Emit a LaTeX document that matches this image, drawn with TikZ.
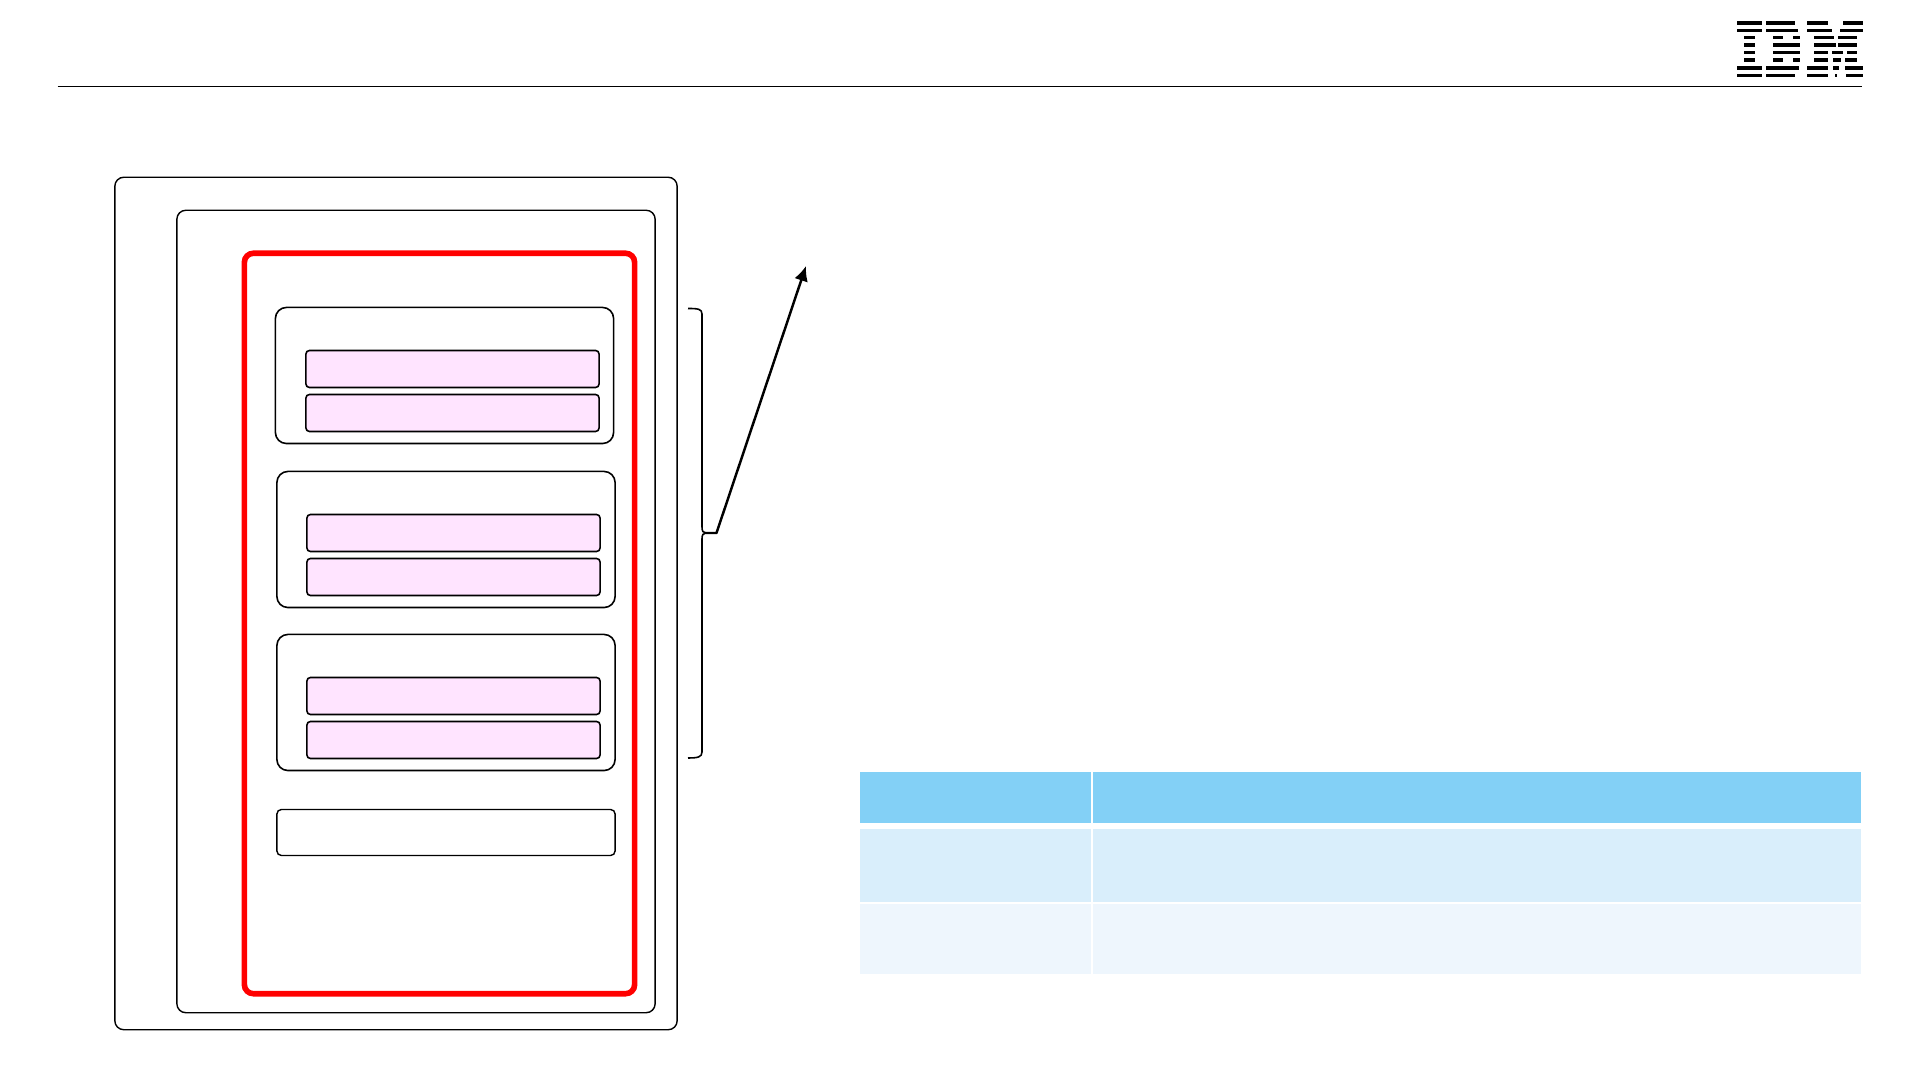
\documentclass[tikz,border=0pt]{standalone}
\usepackage{xcolor}
\usetikzlibrary{arrows.meta}
\definecolor{blockpink}{HTML}{FFE4FF}
\definecolor{headblue}{HTML}{83D0F6}
\definecolor{rowblue}{HTML}{D9EEFB}
\definecolor{rowpale}{HTML}{EEF6FD}

\begin{document}
\begin{tikzpicture}[
    x=0.01cm, y=-0.01cm,
    >=Latex,
    frame/.style={draw=black, line width=0.4pt, rounded corners=0.9mm, inner sep=0pt},
    region/.style={draw=red, line width=1.6pt, rounded corners=0.9mm, inner sep=0pt},
    group/.style={draw=black, line width=0.45pt, rounded corners=1.1mm, inner sep=0pt, minimum width=3.38cm, minimum height=1.36cm},
    slot/.style={draw=black, line width=0.45pt, fill=blockpink, rounded corners=0.35mm, inner sep=0pt, minimum width=2.93cm, minimum height=0.37cm},
    cell/.style={inner sep=0pt, outer sep=0pt}
]
\useasboundingbox (0,0) rectangle (1920,1080);

% header rule
\coordinate (ruleleft) at (57.5,86.5);
\coordinate (ruleright) at (1862,86.5);
\draw[line width=0.3pt] (ruleleft) -- (ruleright);

% logo: y of stripe / list of x ranges
\foreach \ypos/\spans in {
    23/{1737/1762,1766/1795,1807/1828,1843/1863},
    30.5/{1737/1762,1766/1798,1807/1832,1840/1863},
    37.5/{1744/1755,1773/1783,1793/1800,1814/1834,1838/1857},
    45/{1744/1755,1773/1800,1814/1836,1838/1857},
    52.5/{1744/1755,1773/1800,1814/1828,1832/1843,1847/1857},
    60/{1744/1755,1773/1783,1793/1800,1814/1828,1833/1841,1845/1857},
    68/{1737/1762,1766/1799,1807/1828,1833/1839,1845/1863},
    75.5/{1737/1762,1766/1795,1807/1828,1835/1837,1846/1863}}{
  \foreach \xa/\xb in \spans
    \fill (\xa,\ypos-1.9) rectangle (\xb,\ypos+1.9);
}

% nested frames
\node[frame, minimum width=5.62cm, minimum height=8.52cm] (outer) at (396,603.5) {};
\node[frame, minimum width=4.78cm, minimum height=8.02cm] (middle) at (416,611.5) {};
\node[region, minimum width=3.9cm, minimum height=7.4cm] (red) at (439.5,623.5) {};

% groups with their two slots
\node[group] (groupa) at (444.5,375.5) {};
\node[slot] (slotaa) at (452.5,369) {};
\node[slot] (slotab) at (452.5,413) {};

\node[group] (groupb) at (446,539.5) {};
\node[slot] (slotba) at (453.5,533) {};
\node[slot] (slotbb) at (453.5,577) {};

\node[group] (groupc) at (446,702.5) {};
\node[slot] (slotca) at (453.5,696) {};
\node[slot] (slotcb) at (453.5,740) {};

\node[frame, rounded corners=0.45mm, minimum width=3.38cm, minimum height=0.46cm] (bottombar) at (446,832.5) {};

% bracket and pointer
\coordinate (bracetop) at (688,308.5);
\coordinate (bracetip) at (706,533);
\coordinate (bracebot) at (688,758);
\coordinate (kink) at (716.5,533);
\coordinate (pointer) at (806,266);
\draw[line width=0.45pt] (bracetop) .. controls (698,308.5) and (702,309) .. (702,314) -- (702,527)
    .. controls (702,531) and (703,533) .. (bracetip)
    .. controls (703,533) and (702,535) .. (702,539) -- (702,752)
    .. controls (702,757) and (698,758) .. (bracebot);
\draw[line width=0.7pt, line join=round, arrows={-Latex[length=1.5mm,width=1.4mm]}] (bracetip) -- (kink) -- (pointer);

% table
\foreach \name/\ya/\yb/\shade in {head/772/823/headblue, rowa/829/902/rowblue, rowb/904/974/rowpale}{
  \node[cell, fill=\shade, minimum width=2.31cm, minimum height={(\yb-\ya)*0.01cm}] (\name left) at (975.5,{(\ya+\yb)/2}) {};
  \node[cell, fill=\shade, minimum width=7.68cm, minimum height={(\yb-\ya)*0.01cm}] (\name right) at (1477,{(\ya+\yb)/2}) {};
}
\end{tikzpicture}
\end{document}
